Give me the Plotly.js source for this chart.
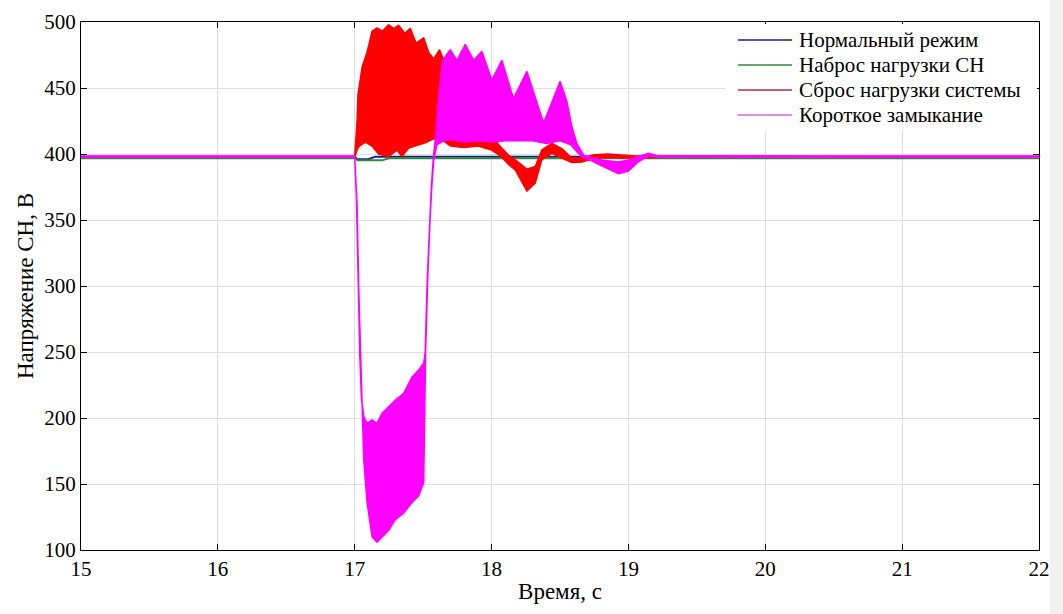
<!DOCTYPE html>
<html>
<head>
<meta charset="utf-8">
<script src="https://cdn.plot.ly/plotly-3.0.1.min.js"></script>
<style>
html,body{margin:0;padding:0;background:#fff;}
#chart{width:1063px;height:614px;}
#chart svg text{fill:#000000 !important;}
.modebar-container,.modebar{display:none !important;}
</style>
</head>
<body>
<div id="chart"></div>
<script>
// ---- Data ----
const seriesNames = ["Нормальный режим", "Наброс нагрузки СН", "Сброс нагрузки системы", "Короткое замыкание"];
const xTicks = [15, 16, 17, 18, 19, 20, 21, 22];
const yTicks = [100, 150, 200, 250, 300, 350, 400, 450, 500];

// Нормальный режим
const tNorm = [15, 17.0, 17.02, 17.1, 17.15, 22];
const vNorm = [398, 398, 396, 396, 398, 398];

// Наброс нагрузки СН
const tNabros = [15, 17.0, 17.02, 17.2, 17.25, 22];
const vNabros = [396.8, 396.8, 395.2, 395.2, 396.8, 396.8];

// Сброс нагрузки системы: upper / lower envelope of the oscillation
const tSbrosUp = [15, 17.0, 17.017, 17.024, 17.054, 17.09, 17.127, 17.163, 17.2, 17.248, 17.285, 17.321, 17.365, 17.406, 17.448, 17.504, 17.54, 17.577, 17.62, 17.65, 17.75, 17.9, 18.0, 18.06, 18.124, 18.173, 18.258, 18.319, 18.367, 18.44, 18.513, 18.586, 18.659, 18.75, 18.85, 18.95, 19.05, 19.3, 22];
const vSbrosUp = [398, 398, 425, 445, 466, 477, 493, 495.5, 493, 498, 495, 497.5, 491.5, 495, 484, 488, 477, 472, 479, 471, 440, 420, 414, 406, 399, 395.6, 388.5, 390.6, 403, 408, 404, 397, 397, 399.5, 400, 399.5, 398.5, 398.5, 398];
const tSbrosLo = [15, 17.0, 17.017, 17.029, 17.078, 17.126, 17.175, 17.248, 17.309, 17.345, 17.394, 17.467, 17.516, 17.564, 17.613, 17.7, 17.8, 17.9, 18.0, 18.06, 18.124, 18.173, 18.258, 18.319, 18.367, 18.44, 18.513, 18.586, 18.659, 18.75, 18.85, 18.95, 19.05, 19.3, 22];
const vSbrosLo = [397.5, 397.5, 403, 405.5, 409, 406, 400, 398, 403, 398, 404.5, 407, 408.5, 411, 412.5, 406, 405, 406, 403, 399, 392, 388, 372, 378, 395.6, 400.5, 397, 393.5, 394, 396.5, 397.5, 397, 397, 397.5, 397.5];

// Короткое замыкание: upper / lower envelope
const tKzUp = [15, 17.0, 17.013, 17.025, 17.037, 17.049, 17.066, 17.09, 17.127, 17.163, 17.2, 17.297, 17.358, 17.418, 17.467, 17.504, 17.515, 17.53, 17.545, 17.56, 17.575, 17.59, 17.61, 17.64, 17.662, 17.698, 17.747, 17.808, 17.869, 17.929, 18.002, 18.075, 18.16, 18.258, 18.38, 18.501, 18.55, 18.586, 18.623, 18.672, 18.708, 18.805, 18.927, 19.0, 19.07, 19.146, 19.22, 19.3, 22];
const vKzUp = [398.5, 398.5, 366, 303, 248, 215, 201, 196, 198.5, 196, 203.6, 213.6, 218.6, 231, 236.4, 241.5, 250, 305, 345, 375, 398, 412, 440, 470, 474, 479, 471, 483, 471, 477.7, 456, 471, 442, 462.6, 423.5, 455, 440, 421, 408, 399, 398, 395.5, 394, 395.5, 398, 400.5, 398.5, 398.5, 398.5];
const tKzLo = [15, 17.0, 17.017, 17.029, 17.041, 17.053, 17.066, 17.09, 17.127, 17.163, 17.2, 17.248, 17.297, 17.358, 17.418, 17.467, 17.504, 17.512, 17.518, 17.533, 17.548, 17.563, 17.578, 17.6, 17.65, 17.7, 17.8, 17.9, 18.0, 18.1, 18.2, 18.3, 18.4, 18.5, 18.58, 18.62, 18.67, 18.708, 18.805, 18.927, 19.0, 19.07, 19.146, 19.22, 19.3, 22];
const vKzLo = [397.5, 397.5, 362, 299, 244, 210, 168, 136, 110, 106, 110, 115, 123, 128, 136, 141, 151, 200, 250, 305, 345, 375, 396, 407, 410, 411, 409, 410, 409, 410, 410, 410, 408, 410, 407, 402, 397, 396, 391, 385, 387, 394, 398.5, 397.5, 397.5, 397.5];

// ---- Styles ----
const colors = ["#1a1a8c", "#2e8b3a", "#ff0000", "#ff00ff"];
const legendLineColors = ["#1a1a7a", "#2e8b3a", "#b03040", "#e060e0"];
const FONT = "Liberation Serif";

// plot area in pixels (for placing the legend box)
const PL = 81, PR = 1039, PT = 22, PB = 550;
const px2x = p => (p - PL) / (PR - PL);
const px2y = p => 1 - (p - PT) / (PB - PT);

function band(tUp, vUp, tLo, vLo, color) {
  const x = tUp.concat(tLo.slice().reverse());
  const y = vUp.concat(vLo.slice().reverse());
  return {x: x, y: y, type: "scatter", mode: "lines", fill: "toself", fillcolor: color,
          line: {color: color, width: 1.5}, showlegend: false, hoverinfo: "skip"};
}

const traces = [
  {x: tNorm, y: vNorm, name: seriesNames[0], type: "scatter", mode: "lines", line: {color: colors[0], width: 2}, showlegend: false},
  {x: tNabros, y: vNabros, name: seriesNames[1], type: "scatter", mode: "lines", line: {color: colors[1], width: 2}, showlegend: false},
  band(tSbrosUp, vSbrosUp, tSbrosLo, vSbrosLo, colors[2]),
  band(tKzUp, vKzUp, tKzLo, vKzLo, colors[3])
];

// custom legend (box, line samples, labels)
const legBox = {x0: 725, x1: 1037, y0: 24, y1: 131};
const legRowsY = [40, 65, 90, 115];
const shapes = [
  {type: "rect", xref: "paper", yref: "paper", x0: 1.0115, x1: 1.03, y0: -0.2, y1: 1.1,
   fillcolor: "#f1f1f1", line: {width: 0}, layer: "below"},
  {type: "rect", xref: "paper", yref: "paper", x0: px2x(legBox.x0), x1: px2x(legBox.x1),
   y0: px2y(legBox.y1), y1: px2y(legBox.y0), fillcolor: "#ffffff", line: {width: 0}, layer: "above"}
];
const annotations = [];
seriesNames.forEach((name, i) => {
  shapes.push({type: "line", xref: "paper", yref: "paper", x0: px2x(738), x1: px2x(792),
    y0: px2y(legRowsY[i]), y1: px2y(legRowsY[i]), line: {color: legendLineColors[i], width: 1.5}, layer: "above"});
  annotations.push({xref: "paper", yref: "paper", x: px2x(797), y: px2y(legRowsY[i]),
    xanchor: "left", yanchor: "middle", text: name, showarrow: false,
    font: {family: FONT, size: 21}});
});

const layout = {
  width: 1063, height: 614,
  margin: {l: 81, r: 24, t: 22, b: 64},
  font: {family: FONT, size: 21},
  xaxis: {
    range: [15, 22], tickvals: xTicks, ticktext: xTicks.map(String),
    showline: true, linecolor: "#000", linewidth: 1, mirror: "ticks",
    ticks: "inside", ticklen: 6, tickcolor: "#000", tickwidth: 1,
    showgrid: true, gridcolor: "#dedede", gridwidth: 1, zeroline: false,
    tickfont: {family: FONT, size: 21},
    title: {text: "Время, с", font: {family: FONT, size: 23}, standoff: 2}
  },
  yaxis: {
    range: [100, 500], tickvals: yTicks, ticktext: yTicks.map(String),
    showline: true, linecolor: "#000", linewidth: 1, mirror: "ticks",
    ticks: "inside", ticklen: 6, tickcolor: "#000", tickwidth: 1,
    showgrid: true, gridcolor: "#dedede", gridwidth: 1, zeroline: false,
    tickfont: {family: FONT, size: 21},
    title: {text: "Напряжение СН, В", font: {family: FONT, size: 23}, standoff: 4}
  },
  shapes: shapes,
  annotations: annotations,
  showlegend: false
};

Plotly.newPlot("chart", traces, layout);
</script>
</body>
</html>
